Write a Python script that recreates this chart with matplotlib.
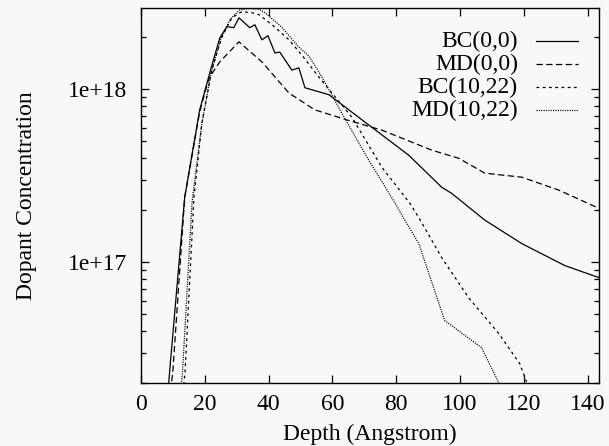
import matplotlib
matplotlib.use("Agg")
import matplotlib.pyplot as plt
from matplotlib.ticker import FixedLocator, LogLocator, NullFormatter
from matplotlib.lines import Line2D

plt.rcParams['font.family'] = ['Liberation Serif', 'DejaVu Serif']
plt.rcParams['lines.scale_dashes'] = False

series_names = ["BC(0,0)", "MD(0,0)", "BC(10,22)", "MD(10,22)"]

bc00_x = [8.5, 9.0, 13.7, 18.4, 22.1, 24.7, 26.9, 29.1, 30.7, 34.1, 35.7, 37.9, 39.8, 42.0, 43.5,
          47.3, 49.5, 51.4, 58.9, 70.2, 83.9, 94.3, 97.4, 107.8, 119.4, 132.9, 143.9]
bc00_y = [1.8e16, 2.36e16, 2.37e17, 7.6e17, 1.35e18, 1.98e18, 2.30e18, 2.27e18, 2.59e18, 2.27e18,
          2.36e18, 1.93e18, 2.04e18, 1.62e18, 1.64e18, 1.29e18, 1.33e18, 1.02e18, 9.3e17, 6.46e17,
          4.16e17, 2.71e17, 2.50e17, 1.75e17, 1.28e17, 9.55e16, 8.1e16]

md00_x = [9.3, 10.0, 13.7, 18.4, 21.3, 24.7, 30.7, 37.9, 46.4, 54.5, 65.1, 75.5, 85.8, 91.2,
          99.6, 107.8, 119.4, 131.0, 143.5]
md00_y = [1.8e16, 2.36e16, 2.37e17, 7.4e17, 1.16e18, 1.44e18, 1.88e18, 1.44e18, 9.5e17, 7.6e17,
          6.6e17, 5.8e17, 4.87e17, 4.44e17, 3.99e17, 3.27e17, 3.10e17, 2.61e17, 2.05e17]

bc1022_x = [13.2, 13.8, 16.6, 19.1, 22.2, 25.3, 28.5, 31.6, 34.7, 37.0, 41.1, 46.4, 50.4, 55.7,
            66.1, 75.5, 84.3, 87.1, 94.3, 102.8, 112.2, 118.8, 121.0, 123.0]
bc1022_y = [1.8e16, 2.3e16, 2.37e17, 6.4e17, 1.29e18, 1.99e18, 2.59e18, 2.81e18, 2.77e18, 2.70e18,
            2.36e18, 1.93e18, 1.58e18, 1.18e18, 6.9e17, 3.54e17, 2.19e17, 1.81e17, 1.06e17,
            6.2e16, 3.86e16, 2.58e16, 2.0e16, 1.7e16]

md1022_x = [12.4, 13.0, 16.0, 19.0, 22.0, 25.0, 28.0, 31.0, 34.0, 37.0, 38.9, 44.0, 49.4, 52.7,
            56.7, 62.9, 71.4, 79.5, 82.7, 87.1, 95.2, 106.8, 112.2, 114.0]
md1022_y = [1.8e16, 2.3e16, 2.2e17, 6.2e17, 1.25e18, 1.95e18, 2.55e18, 2.88e18, 2.93e18, 2.90e18,
            2.77e18, 2.3e18, 1.76e18, 1.55e18, 1.18e18, 7.3e17, 3.89e17, 2.22e17, 1.75e17,
            1.28e17, 4.6e16, 3.2e16, 2.0e16, 1.7e16]

xticks = [0, 20, 40, 60, 80, 100, 120, 140]
ytick_values = [1e17, 1e18]
ytick_labels = ["1e+17", "1e+18"]

FS = 17
bg = '#f8f8f8'
fig = plt.figure(figsize=(6.09, 4.46), dpi=100, facecolor=bg)
ax = fig.add_axes([141/609, 1 - 383/446, (599-141)/609, (383-8)/446], facecolor=bg)

dash_styles = [None, (4.5, 2.5), (2.0, 2.5), (0.8, 0.9)]
data = [(bc00_x, bc00_y), (md00_x, md00_y), (bc1022_x, bc1022_y), (md1022_x, md1022_y)]

for (xs, ys), ds in zip(data, dash_styles):
    ls = '-' if ds is None else (0, ds)
    ax.plot(xs, ys, color='black', lw=0.9, linestyle=ls)

ax.set_yscale('log')
ax.set_xlim(0, 143.6)
ax.set_ylim(2.0e16, 2.95e18)

ax.xaxis.set_major_locator(FixedLocator(xticks))
ax.set_xticklabels([str(t) for t in xticks])
ax.yaxis.set_major_locator(FixedLocator(ytick_values))
ax.set_yticklabels(ytick_labels)
ax.yaxis.set_minor_locator(LogLocator(base=10, subs=[2, 3, 4, 5, 6, 7, 8, 9]))
ax.yaxis.set_minor_formatter(NullFormatter())

ax.tick_params(which='both', direction='in', top=True, right=True, labelsize=FS, width=0.9)
ax.tick_params(axis='x', which='major', length=6, pad=8)
ax.tick_params(axis='y', which='major', length=6, pad=10)
ax.tick_params(which='minor', length=3.5)
for s in ax.spines.values():
    s.set_linewidth(1.0)

ax.set_xlabel("Depth (Angstrom)", fontsize=FS, labelpad=6)
ax.set_ylabel("Dopant Concentration", fontsize=FS, labelpad=22)

# gnuplot-style key: right-aligned labels, samples on the right
key_rows = [0.911, 0.850, 0.789, 0.728]
for name, ds, yk in zip(series_names, dash_styles, key_rows):
    ax.text(0.823, yk, name, transform=ax.transAxes, ha='right', va='center', fontsize=FS)
    ls = '-' if ds is None else (0, ds)
    ax.add_line(Line2D([0.862, 0.954], [yk, yk], transform=ax.transAxes, color='black',
                       lw=0.9, linestyle=ls))

fig.savefig("out.png", dpi=100, facecolor=bg)
